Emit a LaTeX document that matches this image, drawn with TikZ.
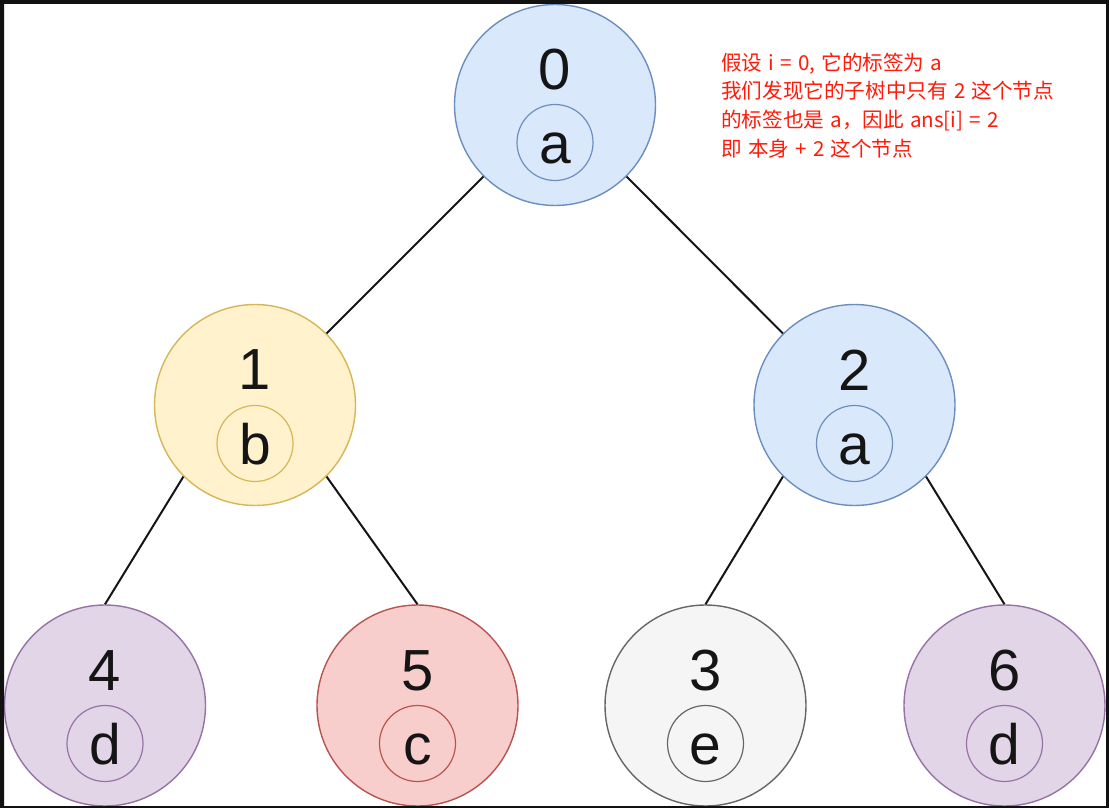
\documentclass[tikz,border=0pt]{standalone}
\usepackage{fontspec}
\setmainfont{Liberation Sans}
\newfontfamily\cjk[WordSpace=1.35]{Noto Sans CJK SC}
\definecolor{bluefill}{HTML}{DAE8FC}
\definecolor{bluedraw}{HTML}{6C8EBF}
\definecolor{yelfill}{HTML}{FFF2CC}
\definecolor{yeldraw}{HTML}{D6B656}
\definecolor{purfill}{HTML}{E1D5E7}
\definecolor{purdraw}{HTML}{9673A6}
\definecolor{redfill}{HTML}{F8CECC}
\definecolor{reddraw}{HTML}{B85450}
\definecolor{grayfill}{HTML}{F5F5F5}
\definecolor{graydraw}{HTML}{666666}
\definecolor{txt}{HTML}{151515}
\definecolor{framecol}{HTML}{111111}
\definecolor{notecol}{HTML}{FF1A0A}
\tikzset{
  outer/.style={circle, minimum size=201pt, inner sep=0pt, line width=1.4pt},
  inner/.style={circle, minimum size=76pt, inner sep=0pt, line width=1.2pt,
    font=\fontsize{57}{66}\selectfont, text=txt, text height=41pt, text depth=0pt},
  digit/.style={inner sep=0pt, font=\fontsize{58}{66}\selectfont, text=txt},
  blueN/.style={fill=bluefill, draw=bluedraw},
  yelN/.style={fill=yelfill, draw=yeldraw},
  purN/.style={fill=purfill, draw=purdraw},
  redN/.style={fill=redfill, draw=reddraw},
  grayN/.style={fill=grayfill, draw=graydraw},
  edge/.style={draw=txt, line width=2pt},
  note/.style={anchor=base west, inner sep=0pt, text=notecol, font=\cjk\fontsize{20.6}{28}\selectfont}
}
\begin{document}
\begin{tikzpicture}[x=1pt, y=-1pt]
\useasboundingbox (0,0) rectangle (1109,808);
\fill[white] (0,0) rectangle (1109,808);
% tree nodes
\node[outer, blueN] (n0) at (555,105) {};
\node[digit] (n0d) at (555,70) {0};
\node[inner, blueN] (n0i) at (555,142.5) {a};

\node[outer, yelN] (n1) at (255,405) {};
\node[digit] (n1d) at (255,370) {1};
\node[inner, yelN] (n1i) at (255,443.5) {b};

\node[outer, blueN] (n2) at (854.5,405) {};
\node[digit] (n2d) at (854.5,370) {2};
\node[inner, blueN] (n2i) at (854.5,443.5) {a};

\node[outer, purN] (n4) at (105,705.5) {};
\node[digit] (n4d) at (105,670.5) {4};
\node[inner, purN] (n4i) at (105,743.5) {d};

\node[outer, redN] (n5) at (417.5,705.5) {};
\node[digit] (n5d) at (417.5,670.5) {5};
\node[inner, redN] (n5i) at (417.5,743.5) {c};

\node[outer, grayN] (n3) at (705.5,705.5) {};
\node[digit] (n3d) at (705.5,670.5) {3};
\node[inner, grayN] (n3i) at (705.5,743.5) {e};

\node[outer, purN] (n6) at (1004.5,705.5) {};
\node[digit] (n6d) at (1004.5,670.5) {6};
\node[inner, purN] (n6i) at (1004.5,743.5) {d};

% edges
\draw[edge] (n0.225) -- (n1.45);
\draw[edge] (n0.-45) -- (n2.135);
\draw[edge] (n1.225) -- (n4.90);
\draw[edge] (n1.-45) -- (n5.90);
\draw[edge] (n2.225) -- (n3.90);
\draw[edge] (n2.-45) -- (n6.90);

% annotation
\node[note] (t1) at (721,70.5) {假设 i = 0, 它的标签为 a};
\node[note] (t2) at (721,99) {我们发现它的子树中只有 2 这个节点};
\node[note] (t3) at (721,127.5) {的标签也是 a，因此 ans[i] = 2};
\node[note] (t4) at (721,156) {即 本身 + 2 这个节点};

% frame
\fill[framecol, even odd rule] (0,0) rectangle (1109,808) (4,4) rectangle (1106,806);
\end{tikzpicture}
\end{document}
